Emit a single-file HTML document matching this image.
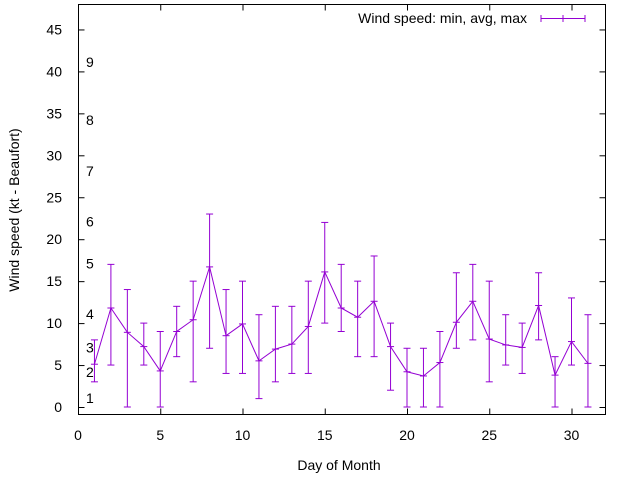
<!DOCTYPE html>
<html><head><meta charset="utf-8"><style>
body{margin:0;background:#fff}
svg{display:block;font-family:"Liberation Sans",sans-serif}
</style></head><body>
<svg id="chart" width="640" height="480" viewBox="0 0 640 480" xmlns="http://www.w3.org/2000/svg">
<rect width="640" height="480" fill="#fff"/>
<g id="axes"></g>
<g id="series"></g>
<rect x="78.5" y="4.5" width="527" height="410" fill="none" stroke="#000" stroke-width="1"/>
<text transform="translate(19,210) rotate(-90)" text-anchor="middle" font-size="14">Wind speed (kt - Beaufort)</text>
<text x="339" y="470" text-anchor="middle" font-size="14">Day of Month</text>
<g>
<text x="527" y="23" text-anchor="end" font-size="14">Wind speed: min, avg, max</text>
<g stroke="#9400d3" stroke-width="1">
<line x1="541" y1="18.5" x2="585" y2="18.5"/>
<line x1="541" y1="15" x2="541" y2="22"/>
<line x1="585" y1="15" x2="585" y2="22"/>
<line x1="563" y1="15" x2="563" y2="22"/>
</g>
</g>
</svg>
<script>
const days=[1,2,3,4,5,6,7,8,9,10,11,12,13,14,15,16,17,18,19,20,21,22,23,24,25,26,27,28,29,30,31];
const avgVals=[5.1,11.8,8.9,7.2,4.3,9,10.4,16.7,8.5,9.9,5.5,6.9,7.5,9.6,16.1,11.8,10.7,12.6,7.2,4.2,3.7,5.3,10.1,12.6,8.1,7.4,7.1,12.1,3.8,7.8,5.2];
const minVals=[3,5,0,5,0,6,3,7,4,4,1,3,4,4,10,9,6,6,2,0,0,0,7,8,3,5,4,8,0,5,0];
const maxVals=[8,17,14,10,9,12,15,23,14,15,11,12,12,15,22,17,15,18,10,7,7,9,16,17,15,11,10,16,6,13,11];
const yTicks=[0,5,10,15,20,25,30,35,40,45];
const xTicks=[0,5,10,15,20,25,30];
const beaufortLabels=["1","2","3","4","5","6","7","8","9"];
const beaufortPos=[1.1,4.2,7.1,11.1,17.1,22.1,28.1,34.2,41.1];
const NS="http://www.w3.org/2000/svg";
function X(v){return 78+v*16.45;}
function Y(v){return 407-v*8.39;}
function mk(t,a,p){const e=document.createElementNS(NS,t);for(const k in a)e.setAttribute(k,a[k]);p.appendChild(e);return e;}
const axes=document.getElementById('axes');
yTicks.forEach(v=>{
 const l=mk('line',{x1:78.5,x2:84.5,y1:Y(v)+0.5,y2:Y(v)+0.5,stroke:'#000'},axes);
 
 
 const r=mk('line',{x1:599.5,x2:605.5,y1:Y(v)+0.5,y2:Y(v)+0.5,stroke:'#000'},axes);
 
 
 const t=mk('text',{x:62,y:Y(v)+5,'text-anchor':'end','font-size':14},axes);
 t.textContent=v;
 
 
});
xTicks.forEach(v=>{
 const l=mk('line',{x1:X(v)+0.5,x2:X(v)+0.5,y1:408.5,y2:414.5,stroke:'#000'},axes);
 
 
 const u=mk('line',{x1:X(v)+0.5,x2:X(v)+0.5,y1:4.5,y2:10.5,stroke:'#000'},axes);
 
 
 const t=mk('text',{x:X(v),y:440,'text-anchor':'middle','font-size':14},axes);
 t.textContent=v;
 
 
});
beaufortLabels.forEach((s,i)=>{
 const t=mk('text',{x:86,y:Y(beaufortPos[i])+5,'font-size':14},axes);
 t.textContent=s;
 
 
});
const ser=document.getElementById('series');
const pts=days.map((d,i)=>X(d)+','+Y(avgVals[i])).join(' ');
const pl=mk('polyline',{points:pts,fill:'none',stroke:'#9400d3','stroke-width':1},ser);


days.forEach((d,i)=>{
 const g=mk('g',{stroke:'#9400d3','stroke-width':1},ser);
 
 
 const x=X(d);
 mk('line',{x1:x,x2:x,y1:Y(minVals[i]),y2:Y(maxVals[i])},g);
 mk('line',{x1:x-3.5,x2:x+3.5,y1:Y(minVals[i]),y2:Y(minVals[i])},g);
 mk('line',{x1:x-3.5,x2:x+3.5,y1:Y(maxVals[i]),y2:Y(maxVals[i])},g);
 mk('line',{x1:x-3.5,x2:x+3.5,y1:Y(avgVals[i]),y2:Y(avgVals[i])},g);
});
</script>
</body></html>
